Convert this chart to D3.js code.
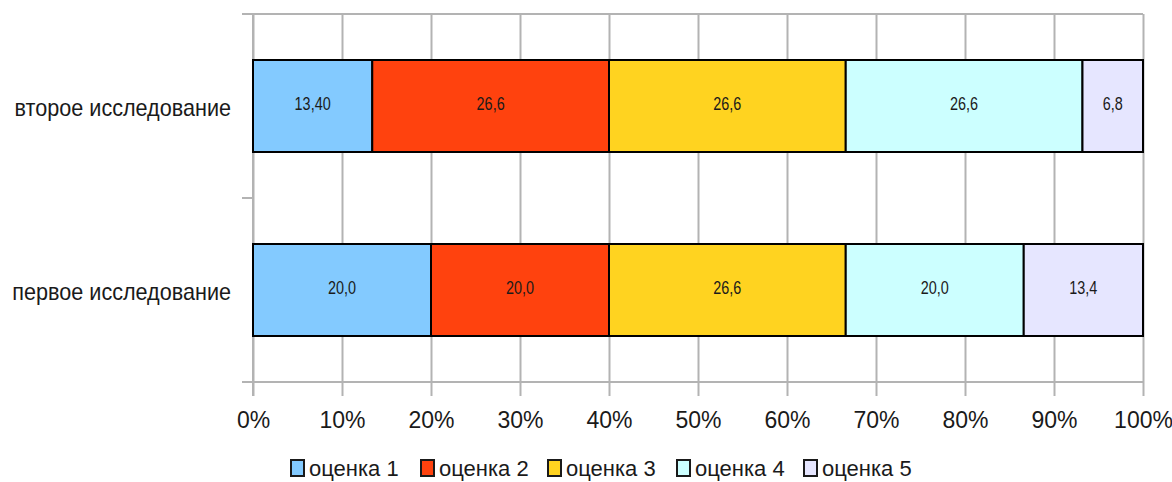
<!DOCTYPE html>
<html>
<head>
<meta charset="utf-8">
<script src="https://cdn.jsdelivr.net/npm/d3@7"></script>
<style>
  body { margin: 0; background: #fff; }
  svg text { font-family: "Liberation Sans", Arial, sans-serif; fill: #1a1a1a; }
</style>
</head>
<body>
<div id="chart"></div>
<script>
// Categories (top to bottom) and series
var categories = ['второе исследование', 'первое исследование'];
var seriesNames = ['оценка 1', 'оценка 2', 'оценка 3', 'оценка 4', 'оценка 5'];
var seriesColors = ['#83caff', '#ff420e', '#ffd320', '#ccffff', '#e6e6ff'];
// values per category, same order as categories
var values = [
    [13.4, 26.6, 26.6, 26.6, 6.8],
    [20.0, 20.0, 26.6, 20.0, 13.4]
];
var valueLabels = [
    ['13,40', '26,6', '26,6', '26,6', '6,8'],
    ['20,0', '20,0', '26,6', '20,0', '13,4']
];
var xTicks = [0, 10, 20, 30, 40, 50, 60, 70, 80, 90, 100];

var svgWidth = 1172;
var svgHeight = 482;
var plot = { left: 253, right: 1143, top: 14, bottom: 382 };
var gridColor = '#b3b3b3';

var svg = d3.select('#chart')
    .append('svg')
    .attr('width', svgWidth)
    .attr('height', svgHeight);

// text squeezed horizontally (the original looks a bit condensed)
function squeezedText(parent, x, y, txt, size, sx, anchor) {
    var t = parent.append('text')
        .attr('x', x)
        .attr('y', y)
        .attr('text-anchor', anchor)
        .style('font-size', size + 'px')
        .text(txt);
    var w = t.node().getComputedTextLength();
    t.attr('textLength', w * sx)
        .attr('lengthAdjust', 'spacingAndGlyphs');
    return t;
}

var x = d3.scaleLinear()
    .domain([0, 100])
    .range([plot.left, plot.right]);

var y = d3.scaleBand()
    .domain(categories)
    .range([plot.top, plot.bottom])
    .paddingInner(0.5)
    .paddingOuter(0.25);

// vertical gridlines + bottom axis ticks
var xAxis = d3.axisBottom(x)
    .tickValues(xTicks)
    .tickSize(14)
    .tickFormat(d => d + '%');

var xg = svg.append('g')
    .attr('transform', `translate(0, ${plot.bottom})`)
    .call(xAxis);
xg.select('.domain').remove();
xg.selectAll('.tick line')
    .attr('y1', plot.top - plot.bottom)
    .attr('stroke', gridColor)
    .attr('stroke-width', 2);
xg.selectAll('.tick text')
    .attr('dy', 0)
    .attr('y', 46)
    .attr('fill', '#1a1a1a')
    .style('font-family', '"Liberation Sans", Arial, sans-serif')
    .style('font-size', '23px');

// horizontal lines: top edge and bottom axis
[plot.top, plot.bottom].forEach(function(yy) {
    svg.append('line')
        .attr('x1', plot.left - 11)
        .attr('x2', plot.right)
        .attr('y1', yy)
        .attr('y2', yy)
        .attr('stroke', gridColor)
        .attr('stroke-width', 2);
});

// category separators on the y axis
var step = y.step();
var boundaries = [plot.top];
categories.forEach(function(c) {
    boundaries.push(y(c) + y.bandwidth() + step * 0.25);
});
boundaries.forEach(function(yy) {
    svg.append('line')
        .attr('x1', plot.left - 11)
        .attr('x2', plot.left)
        .attr('y1', yy)
        .attr('y2', yy)
        .attr('stroke', gridColor)
        .attr('stroke-width', 2);
});
svg.append('line')
    .attr('x1', plot.left)
    .attr('x2', plot.left)
    .attr('y1', plot.top)
    .attr('y2', plot.bottom + 14)
    .attr('stroke', gridColor)
    .attr('stroke-width', 2);

// category labels
categories.forEach(function(c) {
    squeezedText(svg, plot.left - 22, y(c) + y.bandwidth() / 2 + 10, c, 24, 0.9, 'end');
});

// stacked segments
categories.forEach(function(cat, ci) {
    var acc = 0;
    values[ci].forEach(function(v, si) {
        var x0 = x(acc);
        var x1 = x(acc + v);
        acc += v;
        svg.append('rect')
            .attr('x', x0)
            .attr('y', y(cat))
            .attr('width', x1 - x0)
            .attr('height', y.bandwidth())
            .attr('fill', seriesColors[si])
            .attr('stroke', '#000')
            .attr('stroke-width', 2);
        squeezedText(svg, (x0 + x1) / 2, y(cat) + y.bandwidth() / 2 + 4,
            valueLabels[ci][si], 18, 0.8, 'middle');
    });
});

// legend
var legendX = [291, 421, 548, 677, 804];
seriesNames.forEach(function(name, i) {
    svg.append('rect')
        .attr('x', legendX[i])
        .attr('y', 460)
        .attr('width', 13)
        .attr('height', 16)
        .attr('fill', seriesColors[i])
        .attr('stroke', '#1a1a1a')
        .attr('stroke-width', 2);
    svg.append('text')
        .attr('x', legendX[i] + 18)
        .attr('y', 476)
        .style('font-size', '22px')
        .text(name);
});
</script>
</body>
</html>
